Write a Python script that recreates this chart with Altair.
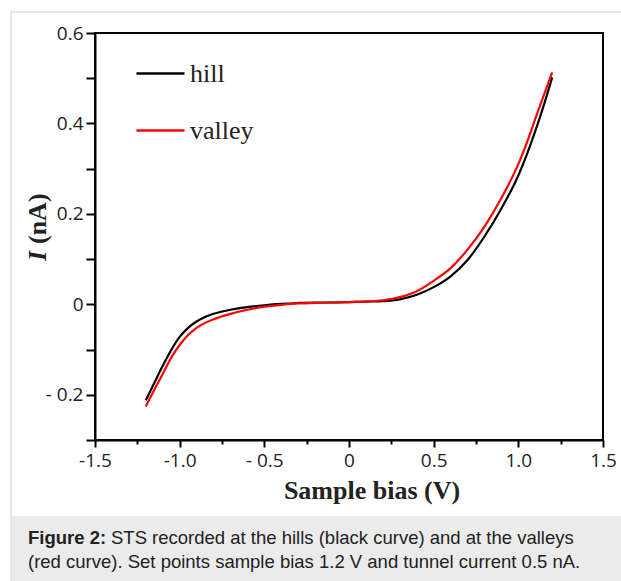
import altair as alt
import pandas as pd

# ---- data ----
bias = [-1.2, -1.15, -1.1, -1.05, -1.0, -0.95, -0.9, -0.85, -0.8, -0.7, -0.6, -0.5,
        -0.4, -0.3, -0.2, -0.1, 0.0, 0.1, 0.2, 0.3, 0.4, 0.5, 0.6, 0.7, 0.8, 0.9,
        1.0, 1.05, 1.1, 1.15, 1.2]
hill = [-0.212, -0.174, -0.136, -0.101, -0.072, -0.052, -0.038, -0.028, -0.021, -0.012,
        -0.006, -0.002, 0.001, 0.003, 0.004, 0.004, 0.005, 0.006, 0.007, 0.011, 0.021,
        0.038, 0.062, 0.098, 0.150, 0.212, 0.285, 0.331, 0.383, 0.440, 0.502]
valley = [-0.226, -0.189, -0.154, -0.118, -0.090, -0.068, -0.052, -0.041, -0.033, -0.021,
          -0.012, -0.005, -0.001, 0.002, 0.003, 0.004, 0.005, 0.006, 0.009, 0.016, 0.029,
          0.052, 0.080, 0.121, 0.172, 0.235, 0.310, 0.357, 0.410, 0.462, 0.513]
series = ["hill", "valley"]
colors = ["#000000", "#ff0000"]

x_ticks = [-1.5, -1.25, -1.0, -0.75, -0.5, -0.25, 0.0, 0.25, 0.5, 0.75, 1.0, 1.25, 1.5]
x_labels = {-1.5: "-1.5", -1.0: "-1.0", -0.5: "- 0.5", 0.0: "0", 0.5: "0.5", 1.0: "1.0", 1.5: "1.5"}
y_ticks = [-0.3, -0.2, -0.1, 0.0, 0.1, 0.2, 0.3, 0.4, 0.5, 0.6]
y_labels = {-0.2: "- 0.2", 0.0: "0", 0.2: "0.2", 0.4: "0.4", 0.6: "0.6"}

x_title = "Sample bias (V)"
y_title_italic = "I"
y_title_rest = "(nA)"
caption_bold = "Figure 2:"
caption_line1 = "STS recorded at the hills (black curve) and at the valleys"
caption_line2 = "(red curve). Set points sample bias 1.2 V and tunnel current 0.5 nA."

rows = []
for v, h, r in zip(bias, hill, valley):
    rows.append({"V": v, "I": h, "series": series[0]})
    rows.append({"V": v, "I": r, "series": series[1]})
df = pd.DataFrame(rows)


def label_expr(mapping):
    expr = "''"
    for val, txt in mapping.items():
        expr = f"abs(datum.value - ({val})) < 1e-6 ? '{txt}' : " + expr
    return expr


W, H = 508, 407
LEFT, TOP = 95, 33

serif = "Liberation Serif"
sans_tick = "Open Sans"

x_axis = alt.Axis(
    values=x_ticks, labelExpr=label_expr(x_labels), title=None, grid=False,
    tickSize={"condition": {"test": "abs(datum.value*2 - round(datum.value*2)) > 0.01", "value": 4}, "value": 7},
    labelPadding=4, labelFlush=False, labelOverlap=False,
)
y_axis = alt.Axis(
    values=y_ticks, labelExpr=label_expr(y_labels), title=None, grid=False,
    tickSize=9, labelPadding=3, labelOverlap=False,
)

lines = alt.Chart(df).mark_line(strokeWidth=2.2, interpolate="monotone").encode(
    x=alt.X("V:Q", scale=alt.Scale(domain=[-1.5, 1.5], nice=False, zero=False), axis=x_axis),
    y=alt.Y("I:Q", scale=alt.Scale(domain=[-0.3, 0.6], nice=False, zero=False), axis=y_axis),
    color=alt.Color(
        "series:N",
        scale=alt.Scale(domain=series, range=colors),
        legend=alt.Legend(
            title=None, orient="none", legendX=40, legendY=15,
            symbolType="stroke", symbolSize=2304, symbolStrokeWidth=2.5,
            labelFont=serif, labelFontSize=26, labelColor="#222222", labelOffset=4,
            rowPadding=18, padding=0,
        ),
    ),
    detail="series:N",
)

one = pd.DataFrame({"k": [0]})

# outer light frame and caption background
frame = alt.Chart(one).mark_rect(fill="white", fillOpacity=0, stroke="#dddddd", strokeWidth=1.5).encode(
    x=alt.value(11 - LEFT), x2=alt.value(640 - LEFT), y=alt.value(12 - TOP), y2=alt.value(600 - TOP)
)
cap_bg = alt.Chart(one).mark_rect(fill="#ebebeb").encode(
    x=alt.value(12 - LEFT), x2=alt.value(640 - LEFT), y=alt.value(516 - TOP), y2=alt.value(600 - TOP)
)

def txt(text, x, y, **kw):
    return alt.Chart(one).mark_text(text=text, **kw).encode(x=alt.value(x), y=alt.value(y))

xt = txt(x_title, 372 - LEFT, 491 - TOP, font=serif, fontSize=26, fontWeight="bold",
         color="#222222", align="center", baseline="middle")
yt1 = txt(y_title_italic, 38 - LEFT, 261 - TOP, font=serif, fontSize=26, fontWeight="bold",
          fontStyle="italic", color="#222222", angle=270, align="left", baseline="middle")
yt2 = txt(y_title_rest, 38 - LEFT, 244 - TOP, font=serif, fontSize=26, fontWeight="bold",
          color="#222222", angle=270, align="left", baseline="middle")

c1 = txt(caption_bold, 28 - LEFT, 538 - TOP, font="Liberation Sans", fontSize=18.5,
         fontWeight="bold", color="#222222", align="left", baseline="middle")
c2 = txt(caption_line1, 111 - LEFT, 538 - TOP, font="Liberation Sans", fontSize=18.5,
         color="#222222", align="left", baseline="middle")
c3 = txt(caption_line2, 28 - LEFT, 562 - TOP, font="Liberation Sans", fontSize=18.5,
         color="#222222", align="left", baseline="middle")

chart = alt.layer(frame, cap_bg, lines, xt, yt1, yt2, c1, c2, c3).properties(
    width=W, height=H,
    autosize=alt.AutoSizeParams(type="none"),
    padding={"left": LEFT, "top": TOP, "right": 621 - LEFT - W, "bottom": 581 - TOP - H},
    background="white",
).configure_view(stroke="black", strokeWidth=2).configure_axis(
    domainColor="black", domainWidth=2, tickColor="black", tickWidth=2,
    labelFont=sans_tick, labelFontSize=19, labelColor="#222222",
)

chart.save("out.html", embed_options={"renderer": "svg", "actions": False})
